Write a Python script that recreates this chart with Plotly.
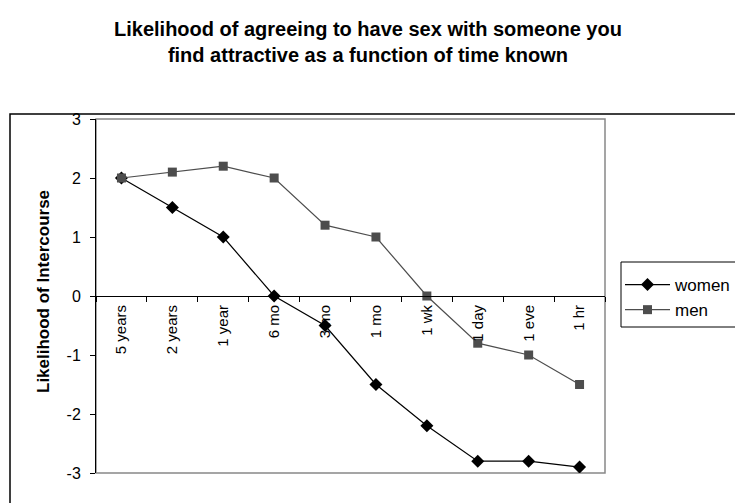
import plotly.graph_objects as go

categories = ["5 years", "2 years", "1 year", "6 mo", "3 mo", "1 mo", "1 wk", "1 day", "1 eve", "1 hr"]
women = [2.0, 1.5, 1.0, 0.0, -0.5, -1.5, -2.2, -2.8, -2.8, -2.9]
men = [2.0, 2.1, 2.2, 2.0, 1.2, 1.0, 0.0, -0.8, -1.0, -1.5]
y_tickvals = [3, 2, 1, 0, -1, -2, -3]
y_ticktext = ["3", "2", "1", "0", "-1", "-2", "-3"]

FONT = "Arial, Liberation Sans, sans-serif"
W, H = 735, 503
L, R, T, B = 96, 130, 119, 30
pw = W - L - R
ph = H - T - B

def px_x(x):
    return (x - L) / pw

def px_y(y):
    return (H - B - y) / ph

fig = go.Figure()
fig.add_trace(go.Scatter(
    x=categories, y=women, name="women", mode="lines+markers",
    line=dict(color="#000000", width=1.2),
    marker=dict(symbol="diamond", size=10, color="#000000"),
    legendgroup="w",
))
fig.add_trace(go.Scatter(
    x=categories, y=men, name="men", mode="lines+markers",
    line=dict(color="#4d4d4d", width=1.2),
    marker=dict(symbol="square", size=9, color="#4d4d4d"),
    legendgroup="m",
))

fig.update_layout(
    width=W, height=H,
    margin=dict(l=L, r=R, t=T, b=B, autoexpand=False),
    paper_bgcolor="white", plot_bgcolor="white",
    font=dict(family=FONT, size=15, color="black"),
    xaxis=dict(
        type="category", anchor="free", position=0.5,
        showline=True, linecolor="black", linewidth=1,
        ticks="outside", tickson="boundaries", ticklen=5, tickcolor="black",
        tickangle=-90, showgrid=False, zeroline=False,
        tickfont=dict(family=FONT, size=15, color="black"),
        ticklabelstandoff=2,
        range=[-0.5, 9.5],
    ),
    yaxis=dict(
        range=[-3, 3], tickvals=y_tickvals, ticktext=y_ticktext,
        showline=True, linecolor="black", linewidth=1,
        ticks="outside", ticklen=5, tickcolor="black",
        showgrid=False, zeroline=False,
        ticklabelstandoff=6,
        tickfont=dict(family=FONT, size=16, color="black"),
    ),
    legend=dict(
        x=px_x(620), y=px_y(267), xanchor="left", yanchor="top",
        borderwidth=0, bgcolor="rgba(0,0,0,0)",
        font=dict(family=FONT, size=17, color="black"),
        itemwidth=45, tracegroupgap=0, traceorder="grouped",
    ),
    showlegend=True,
)

# plot-area border (gray), outer chart border (black), legend box (black)
fig.add_shape(type="rect", xref="paper", yref="paper", x0=0, y0=0, x1=1, y1=1,
              line=dict(color="#888888", width=1.5), layer="below")
fig.add_shape(type="rect", xref="paper", yref="paper",
              x0=px_x(10), y0=px_y(520), x1=px_x(760), y1=px_y(114),
              line=dict(color="black", width=1.5), layer="below")
fig.add_shape(type="rect", xref="paper", yref="paper",
              x0=px_x(621), y0=px_y(327), x1=px_x(760), y1=px_y(262),
              line=dict(color="black", width=1), layer="below")

fig.add_annotation(
    text="<b>Likelihood of agreeing to have sex with someone you<br>find attractive as a function of time known</b>",
    xref="paper", yref="paper", x=px_x(367.5), y=px_y(42), xanchor="center", yanchor="middle",
    showarrow=False, font=dict(family=FONT, size=20, color="black"),
)
fig.add_annotation(
    text="<b>Likelihood of Intercourse</b>", textangle=-90,
    xref="paper", yref="paper", x=px_x(43), y=px_y(292), xanchor="center", yanchor="middle",
    showarrow=False, font=dict(family=FONT, size=17, color="black"),
)

fig.write_html("out.html", config={"displayModeBar": False},
               post_script="document.body.style.margin='0px';")
